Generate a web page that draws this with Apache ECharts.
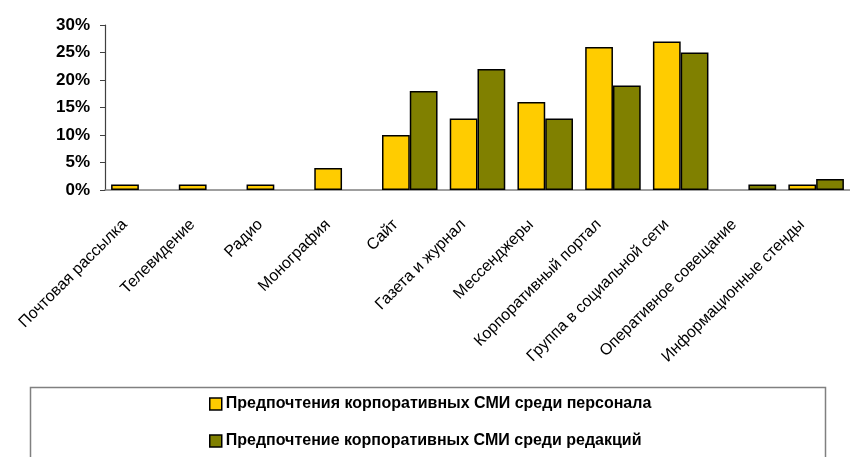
<!DOCTYPE html>
<html>
<head>
    <meta charset="utf-8" />
    <script src="https://cdn.jsdelivr.net/npm/echarts@6/dist/echarts.min.js"></script>
    <style type="text/css">
        html, body { margin: 0; width: 100%; height: 100%; background: #fff; }
        #chart { width: 850px; height: 457px; }
    </style>
</head>
<body>
    <div id="chart"></div>
    <script>
        // данные
        var categories = ['Почтовая рассылка', 'Телевидение', 'Радио', 'Монография', 'Сайт',
            'Газета и журнал', 'Мессенджеры', 'Корпоративный портал', 'Группа в социальной сети',
            'Оперативное совещание', 'Информационные стенды'];
        var personal = [1, 1, 1, 4, 10, 13, 16, 26, 27, 0, 1];
        var redaction = [0, 0, 0, 0, 18, 22, 13, 19, 25, 1, 2];
        var seriesNames = ['Предпочтения корпоративных СМИ среди персонала',
            'Предпочтение корпоративных СМИ среди редакций'];

        var myChart = echarts.init(document.getElementById('chart'));
        var font = 'Liberation Sans, Arial, sans-serif';

        // нулевые значения не рисуем
        function noZero(arr) {
            return arr.map(function (v) { return v === 0 ? '-' : v; });
        }

        function legendAt(name, top) {
            return {
                data: [name],
                left: 209,
                top: top,
                padding: 0,
                icon: 'rect',
                itemWidth: 12,
                itemHeight: 12,
                itemGap: 5,
                itemStyle: { borderColor: '#000', borderWidth: 1.5 },
                textStyle: { fontFamily: font, fontSize: 16, fontWeight: 'bold', color: '#000', padding: [0, 0, 0, -1] }
            };
        }

        option = {
            animation: false,
            grid: { left: 105, right: -3, top: 25, bottom: 267, containLabel: false },
            graphic: [{
                type: 'rect',
                shape: { x: 30.5, y: 387.5, width: 795, height: 80 },
                style: { fill: 'none', stroke: '#808080', lineWidth: 1.5 }
            }],
            legend: [legendAt(seriesNames[0], 396), legendAt(seriesNames[1], 433)],
            xAxis: {
                type: 'category',
                data: categories,
                axisLine: { lineStyle: { color: '#808080', width: 1.5 } },
                axisTick: { length: 5, lineStyle: { color: '#808080' } },
                axisLabel: {
                    rotate: 45,
                    interval: 0,
                    margin: 18,
                    padding: [0, 20, 0, 0],
                    fontFamily: font,
                    fontSize: 16,
                    color: '#000'
                }
            },
            yAxis: {
                type: 'value',
                min: 0,
                max: 30,
                interval: 5,
                splitLine: { show: false },
                axisLine: { show: true, lineStyle: { color: '#404040', width: 1.2 } },
                axisTick: { show: true, length: 5, lineStyle: { color: '#404040' } },
                axisLabel: {
                    formatter: '{value}%',
                    margin: 15,
                    fontFamily: font,
                    fontSize: 17,
                    fontWeight: 'bold',
                    color: '#000'
                }
            },
            series: [{
                name: seriesNames[0],
                type: 'bar',
                data: noZero(personal),
                barGap: '0%',
                barCategoryGap: '18%',
                itemStyle: { color: '#FFCC00', borderColor: '#000', borderWidth: 1.5 }
            }, {
                name: seriesNames[1],
                type: 'bar',
                data: noZero(redaction),
                itemStyle: { color: '#808000', borderColor: '#000', borderWidth: 1.5 }
            }]
        };

        myChart.setOption(option);
    </script>
</body>
</html>
